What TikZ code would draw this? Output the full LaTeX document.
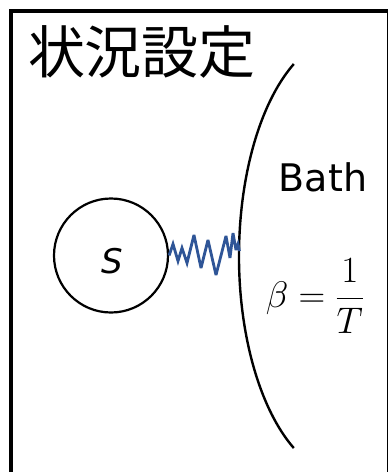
\RequirePackage{fix-cm}
\documentclass[tikz,border=0pt]{standalone}
\usepackage{fontspec}
\newfontfamily\cjk{Noto Sans CJK JP}
\newfontfamily\dejavu{DejaVu Sans}
\definecolor{springblue}{HTML}{2F5597}
\begin{document}
\begin{tikzpicture}[x=1pt,y=-1pt,
  frame/.style={draw=black,line width=4pt},
  sysnode/.style={circle,draw=black,line width=2.2pt,minimum size=114pt,inner sep=0pt},
  bathline/.style={draw=black,line width=2.4pt},
  spring/.style={draw=springblue,line width=2.8pt,line join=miter,miter limit=4},
  txt/.style={inner sep=0pt,outer sep=0pt}]
\useasboundingbox (0,0) rectangle (388,472);
\fill[white] (0,0) rectangle (388,472);
\draw[frame] (10.5,10.5) rectangle (388.5,490);
\node[txt,anchor=base west] (title) at (28,73) {\fontsize{57pt}{60pt}\selectfont\cjk 状況設定};
\node[sysnode] (S) at (111,255.5) {};
\node[txt] (Slabel) at (112,261) {\fontsize{34pt}{36pt}\selectfont\dejavu\itshape S};
\draw[bathline] (293.8,64) arc[start angle=119.2,end angle=240.8,x radius=107pt,y radius=220pt];
\coordinate (bathL) at (239.5,251);
\node[txt] (bath) at (323,177) {\fontsize{38pt}{40pt}\selectfont\dejavu Bath};
\node[txt] (beta) at (315,296) {\fontsize{37pt}{40pt}\selectfont$\displaystyle \beta=\frac{1}{T}$};
\draw[spring] (S.east) -- (173,244) -- (178,261) -- (182,248) -- (187,263) -- (194,235) -- (201,268) -- (208,240) -- (216,275) -- (226,236) -- (230,258) -- (233,233) -- (236,250) -- (238,244) -- (bathL);
\end{tikzpicture}
\end{document}
